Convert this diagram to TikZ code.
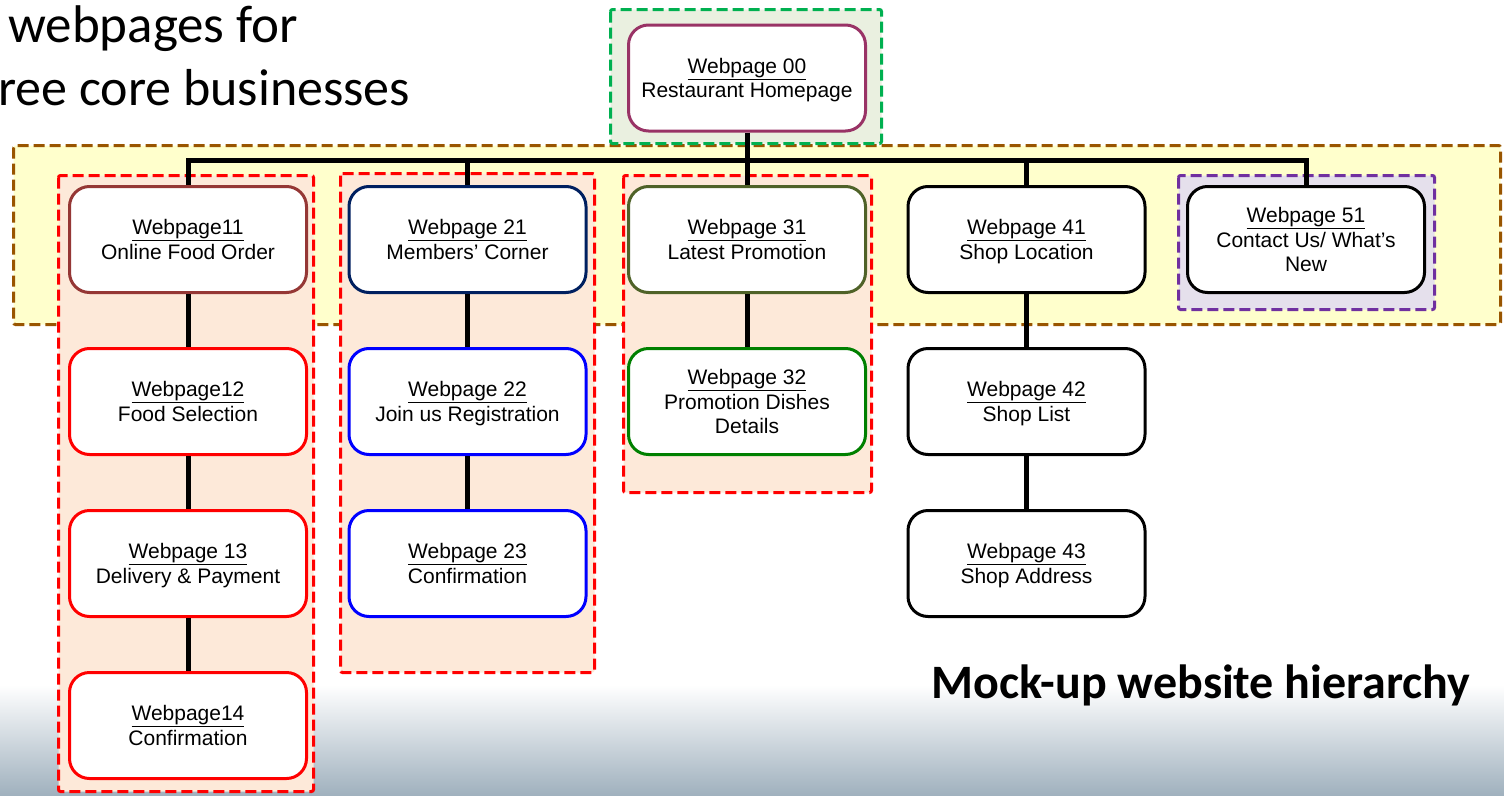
\documentclass[tikz,border=0pt]{standalone}
\usepackage{fontspec}
\newfontfamily\boxfont{Liberation Sans}
\newfontfamily\slidefont{Carlito}
\definecolor{brownline}{RGB}{153,85,0}
\definecolor{yellowfill}{RGB}{255,255,204}
\definecolor{greenline}{RGB}{0,176,80}
\definecolor{greenfill}{RGB}{234,240,224}
\definecolor{peachfill}{RGB}{253,233,217}
\definecolor{purpleline}{RGB}{112,48,160}
\definecolor{lavenderfill}{RGB}{229,224,236}
\definecolor{homeline}{RGB}{153,51,102}
\definecolor{orderline}{RGB}{149,55,53}
\definecolor{navyline}{RGB}{0,32,96}
\definecolor{oliveline}{RGB}{79,98,40}
\definecolor{dishline}{RGB}{0,128,0}
\definecolor{bgmid}{RGB}{226,231,236}
\definecolor{bgblue}{RGB}{160,177,190}
\tikzset{
  pagebox/.style={draw, fill=white, rounded corners=20pt, line width=3pt,
    minimum width=237pt, minimum height=106pt, inner sep=0pt, align=center,
    font=\boxfont\fontsize{21}{24.5}\selectfont},
  groupbox/.style={line width=3pt, dash pattern=on 11pt off 5pt, rounded corners=2pt},
  link/.style={line width=5pt}
}
\begin{document}
\begin{tikzpicture}[x=1pt, y=-1pt]
\useasboundingbox (0,0) rectangle (1504,795);
% background
\fill[white] (0,0) rectangle (1504,795);
\shade[top color=white, middle color=bgmid, bottom color=bgblue] (0,685) rectangle (1504,795);

% slide text
\node[anchor=base west, inner sep=0pt, font=\slidefont\fontsize{53}{60}\selectfont] (headA) at (8,42) {webpages for};
\node[anchor=base west, inner sep=0pt, font=\slidefont\fontsize{52}{60}\selectfont] (headB) at (-2,105) {ree core businesses};
\node[anchor=base, inner sep=0pt, font=\slidefont\bfseries\fontsize{48}{56}\selectfont] (caption) at (1201,698) {Mock-up website hierarchy};

% groups
\draw[groupbox, draw=brownline, fill=yellowfill] (13.5,145.5) rectangle (1500.5,324.5);
\draw[groupbox, draw=greenline, fill=greenfill] (610.5,9.5) rectangle (881.5,143.5);
\draw[groupbox, draw=red, fill=peachfill] (58.5,175.5) rectangle (313.5,791.5);
\draw[groupbox, draw=red, fill=peachfill] (340.5,173.5) rectangle (594.5,672.5);
\draw[groupbox, draw=red, fill=peachfill] (623.5,175.5) rectangle (871.5,492.5);
\draw[groupbox, draw=purpleline, fill=lavenderfill] (1178.5,175.5) rectangle (1434.5,309.5);

% pages
\node[pagebox, draw=homeline] (n00) at (747,78) {\underline{Webpage 00}\\\smash{Restaurant Homepage}};

\node[pagebox, draw=orderline] (n11) at (188,239.5) {\underline{Webpage11}\\\smash{Online Food Order}};
\node[pagebox, draw=red] (n12) at (188,401.5) {\underline{Webpage12}\\\smash{Food Selection}};
\node[pagebox, draw=red] (n13) at (188,563.5) {\underline{Webpage 13}\\\smash{Delivery \& Payment}};
\node[pagebox, draw=red] (n14) at (188,725.5) {\underline{Webpage14}\\\smash{Confirmation}};

\node[pagebox, draw=navyline] (n21) at (467.5,239.5) {\underline{Webpage 21}\\\smash{Members’ Corner}};
\node[pagebox, draw=blue] (n22) at (467.5,401.5) {\underline{Webpage 22}\\\smash{Join us Registration}};
\node[pagebox, draw=blue] (n23) at (467.5,563.5) {\underline{Webpage 23}\\\smash{Confirmation}};

\node[pagebox, draw=oliveline] (n31) at (747,239.5) {\underline{Webpage 31}\\\smash{Latest Promotion}};
\node[pagebox, draw=dishline] (n32) at (747,401.5) {\underline{Webpage 32}\\Promotion Dishes\\\smash{Details}};

\node[pagebox, draw=black] (n41) at (1026.5,239.5) {\underline{Webpage 41}\\\smash{Shop Location}};
\node[pagebox, draw=black] (n42) at (1026.5,401.5) {\underline{Webpage 42}\\\smash{Shop List}};
\node[pagebox, draw=black] (n43) at (1026.5,563.5) {\underline{Webpage 43}\\\smash{Shop Address}};

\node[pagebox, draw=black] (n51) at (1306,239.5) {\underline{Webpage 51}\\Contact Us/ What’s\\\smash{New}};

% links
\coordinate (bus) at (747,160);
\draw[link] (n00.south) -- (n31.north);
\draw[link] (n11.north) |- (n51.north |- bus) -- (n51.north);
\foreach \top in {n21,n41}
{
    \draw[link] (\top.north) -- (\top.north |- bus);
}
\foreach \a/\b in {n11/n12,n12/n13,n13/n14,n21/n22,n22/n23,n31/n32,n41/n42,n42/n43}
{
    \draw[link] (\a.south) -- (\b.north);
}
\end{tikzpicture}
\end{document}
